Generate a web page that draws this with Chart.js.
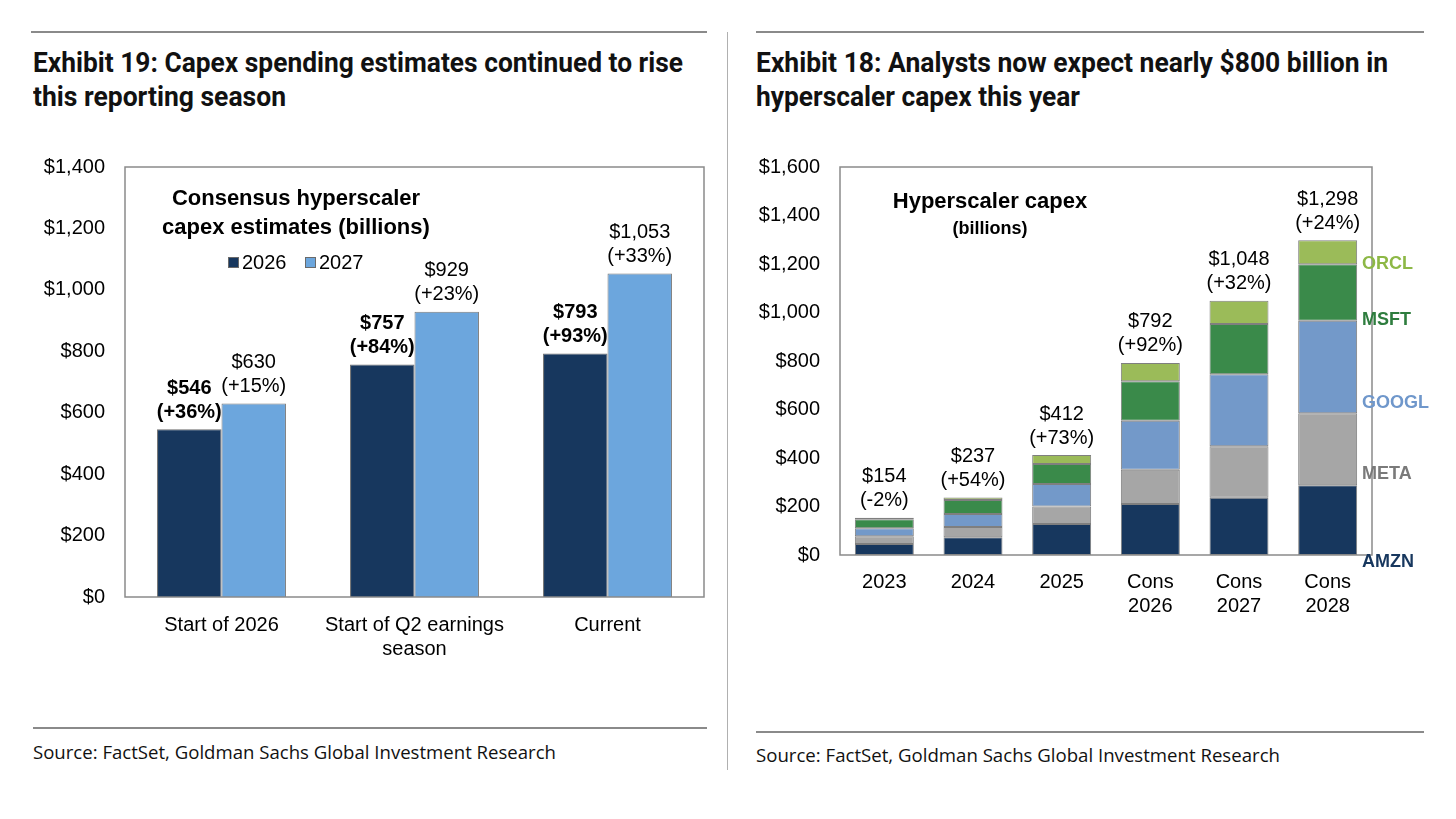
<!DOCTYPE html>
<html>
<head>
<meta charset="utf-8">
<script src="https://cdn.jsdelivr.net/npm/chart.js@4.4.1/dist/chart.umd.min.js"></script>
<style>
  html, body { margin:0; padding:0; background:#fff; }
  body { width:1456px; height:819px; position:relative; overflow:hidden; font-family:"Liberation Sans", Arial, sans-serif; color:#000; }
  .abs { position:absolute; white-space:nowrap; }
  .hdr { font-family: Roboto, "Noto Sans", sans-serif; font-weight:700; font-size:27px; line-height:34px; color:#111; transform-origin:0 0; }
  .src { font-family: "Open Sans", "Noto Sans", sans-serif; font-size:18px; line-height:22px; color:#111; transform-origin:0 0; }
  .rule { position:absolute; height:2px; background:#8a8a8a; }
  .inner { font-weight:700; text-align:center; }
  .leg { font-size:20px; line-height:24px; }
  .sq { display:inline-block; width:9px; height:9px; border:1px solid #6a6a6a; vertical-align:middle; margin-right:3px; position:relative; top:-1px; }
  .ser { font-weight:700; font-size:18px; line-height:20px; }
  canvas { position:absolute; }
</style>
</head>
<body>
<div class="rule" style="left:31px; top:31px; width:676px;"></div>
<div class="rule" style="left:756px; top:31px; width:668px;"></div>
<div style="position:absolute; left:727px; top:32px; width:1px; height:738px; background:#b0b0b0;"></div>
<div class="rule" style="left:33px; top:727px; width:674px;"></div>
<div class="rule" style="left:756px; top:731px; width:668px;"></div>

<div class="abs hdr fit" data-w="650" style="left:33px; top:46px;">Exhibit 19: Capex spending estimates continued to rise</div>
<div class="abs hdr fit" data-w="253" style="left:33px; top:80px;">this reporting season</div>
<div class="abs hdr fit" data-w="632" style="left:756px; top:46px;">Exhibit 18: Analysts now expect nearly $800 billion in</div>
<div class="abs hdr fit" data-w="324" style="left:756px; top:80px;">hyperscaler capex this year</div>

<div class="abs src fit" data-w="523" style="left:33px; top:741px;">Source: FactSet, Goldman Sachs Global Investment Research</div>
<div class="abs src fit" data-w="524" style="left:756px; top:744px;">Source: FactSet, Goldman Sachs Global Investment Research</div>

<canvas id="c1" width="727" height="535" style="left:0px; top:135px; width:727px; height:535px;"></canvas>
<canvas id="c2" width="729" height="535" style="left:727px; top:135px; width:729px; height:535px;"></canvas>

<div class="abs inner" style="left:146px; top:183px; width:300px; font-size:22px; line-height:29px;">Consensus hyperscaler<br>capex estimates (billions)</div>
<div class="abs leg" style="left:228px; top:250px;"><span class="sq" style="background:#17375E;"></span>2026</div>
<div class="abs leg" style="left:305px; top:250px;"><span class="sq" style="background:#6CA6DD;"></span>2027</div>

<div class="abs inner" style="left:860px; top:188px; width:260px; font-size:22px; line-height:26px;">Hyperscaler capex</div>
<div class="abs inner" style="left:860px; top:217px; width:260px; font-size:18px; line-height:22px;">(billions)</div>

<div class="abs ser" style="left:1362px; top:253px; color:#8DB846;">ORCL</div>
<div class="abs ser" style="left:1362px; top:309px; color:#2E7D3E;">MSFT</div>
<div class="abs ser" style="left:1362px; top:392px; color:#6F97CB;">GOOGL</div>
<div class="abs ser" style="left:1362px; top:463px; color:#7a7a7a;">META</div>
<div class="abs ser" style="left:1362px; top:551px; color:#17375E;">AMZN</div>

<script>
// ---------- Left chart data ----------
const leftCategories = [["Start of 2026"], ["Start of Q2 earnings", "season"], ["Current"]];
const est2026 = [546, 757, 793];
const est2027 = [630, 929, 1053];
const growth2026 = ["+36%", "+84%", "+93%"];
const growth2027 = ["+15%", "+23%", "+33%"];
const leftTicks = { min: 0, max: 1400, step: 200 };

// ---------- Right chart data ----------
const rightCategories = [["2023"], ["2024"], ["2025"], ["Cons", "2026"], ["Cons", "2027"], ["Cons", "2028"]];
const amzn  = [45, 73, 128, 210, 236, 288];
const meta  = [32, 42, 72, 142, 212, 297];
const googl = [33, 54, 93, 202, 297, 381];
const msft  = [37, 58, 82, 163, 208, 233];
const orcl  = [7, 10, 37, 75, 95, 99];
const totals = [154, 237, 412, 792, 1048, 1298];
const totalGrowth = ["-2%", "+54%", "+73%", "+92%", "+32%", "+24%"];
const rightTicks = { min: 0, max: 1600, step: 200 };

const NAVY = "#17375E", LIGHTBLUE = "#6CA6DD", GRAY = "#A6A6A6", BLUE = "#7399C9", GREEN = "#3A8A4A", LGREEN = "#9BBB59";
const FONT = "'Liberation Sans', Arial, sans-serif";

function fmt(v) { return "$" + v.toLocaleString("en-US"); }

const boxPlugin = {
  id: "box",
  afterDraw(chart) {
    const a = chart.chartArea, ctx = chart.ctx;
    ctx.save();
    ctx.strokeStyle = "#8a8a8a";
    ctx.lineWidth = 1.5;
    ctx.strokeRect(a.left, a.top, a.right - a.left, a.bottom - a.top);
    ctx.restore();
  }
};

function labelPlugin(getLabels) {
  return {
    id: "vlabels",
    afterDatasetsDraw(chart) {
      const ctx = chart.ctx;
      ctx.save();
      ctx.textAlign = "center";
      ctx.textBaseline = "middle";
      ctx.fillStyle = "#000";
      getLabels(chart).forEach(l => {
        ctx.font = (l.bold ? "bold " : "") + "20px " + FONT;
        ctx.fillText(l.l1, l.x, l.y - 41);
        ctx.fillText(l.l2, l.x, l.y - 17);
      });
      ctx.restore();
    }
  };
}

function scales(ticks, yWidth, xHeight, xPad) {
  return {
    x: {
      stacked: true,
      grid: { display: false, drawTicks: false },
      border: { display: false },
      ticks: { color: "#000", font: { family: FONT, size: 20 }, padding: xPad, maxRotation: 0, autoSkip: false },
      afterFit(s) { s.height = xHeight; }
    },
    y: {
      stacked: true,
      min: ticks.min, max: ticks.max,
      grid: { display: false, drawTicks: false },
      border: { display: false },
      ticks: { stepSize: ticks.step, color: "#000", font: { family: FONT, size: 20 }, padding: 20, callback: v => fmt(v) },
      afterFit(s) { s.width = yWidth; }
    }
  };
}

// Left chart
const s1 = scales(leftTicks, 125, 73, 16);
s1.x.stacked = false; s1.y.stacked = false;
new Chart(document.getElementById("c1"), {
  type: "bar",
  data: {
    labels: leftCategories,
    datasets: [
      { label: "2026", data: est2026, backgroundColor: NAVY, borderColor: "#6e6e6e", borderWidth: 1, borderSkipped: "bottom", categoryPercentage: 0.668, barPercentage: 1.0 },
      { label: "2027", data: est2027, backgroundColor: LIGHTBLUE, borderColor: "#7a7a7a", borderWidth: 1, borderSkipped: "bottom", categoryPercentage: 0.668, barPercentage: 1.0 }
    ]
  },
  options: {
    responsive: false, animation: false, devicePixelRatio: 1,
    layout: { padding: { top: 2, right: 23, left: 0, bottom: 0 } },
    plugins: { legend: { display: false }, tooltip: { enabled: false } },
    scales: s1
  },
  plugins: [boxPlugin, labelPlugin(chart => {
    const out = [];
    const m0 = chart.getDatasetMeta(0).data, m1 = chart.getDatasetMeta(1).data;
    m0.forEach((b, i) => out.push({ x: b.x, y: b.y, l1: fmt(est2026[i]), l2: "(" + growth2026[i] + ")", bold: true }));
    m1.forEach((b, i) => out.push({ x: b.x, y: b.y, l1: fmt(est2027[i]), l2: "(" + growth2027[i] + ")", bold: false }));
    return out;
  })]
});

// Right chart
const ds = (label, data, color) => ({ label, data, backgroundColor: color, borderColor: "#7f7f7f", borderWidth: 1, borderSkipped: false, categoryPercentage: 0.665, barPercentage: 1.0 });
new Chart(document.getElementById("c2"), {
  type: "bar",
  data: {
    labels: rightCategories,
    datasets: [
      ds("AMZN", amzn, NAVY),
      ds("META", meta, GRAY),
      ds("GOOGL", googl, BLUE),
      ds("MSFT", msft, GREEN),
      ds("ORCL", orcl, LGREEN)
    ]
  },
  options: {
    responsive: false, animation: false, devicePixelRatio: 1,
    layout: { padding: { top: 2, right: 84, left: 0, bottom: 0 } },
    plugins: { legend: { display: false }, tooltip: { enabled: false } },
    scales: scales(rightTicks, 113, 115, 15)
  },
  plugins: [boxPlugin, labelPlugin(chart => {
    const top = chart.getDatasetMeta(4).data;
    return top.map((b, i) => ({ x: b.x, y: b.y, l1: fmt(totals[i]), l2: "(" + totalGrowth[i] + ")", bold: false }));
  })]
});

// Fit header/source text widths
document.querySelectorAll(".fit").forEach(el => {
  const w = el.getBoundingClientRect().width;
  const target = +el.dataset.w;
  el.style.transform = "scaleX(" + (target / w) + ")";
});
</script>
</body>
</html>
